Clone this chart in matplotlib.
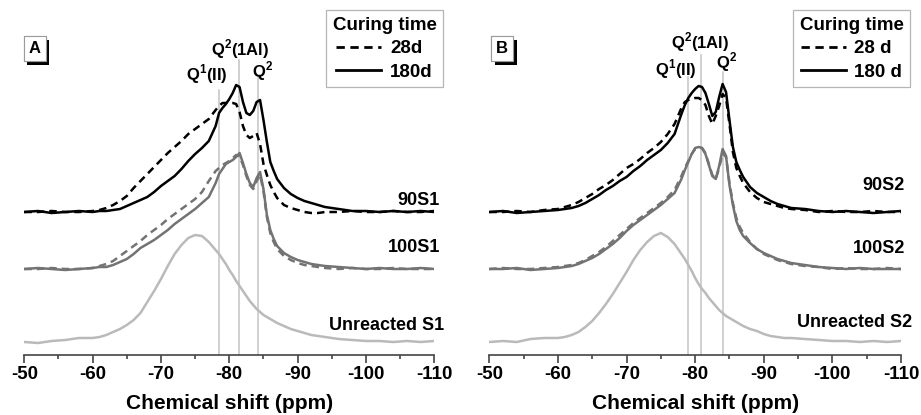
import matplotlib
matplotlib.use("Agg")
import matplotlib.pyplot as plt
import matplotlib.patheffects as pe
from matplotlib.lines import Line2D

plt.rcParams['font.family'] = ['Liberation Sans', 'DejaVu Sans']
plt.rcParams['font.weight'] = 'bold'
plt.rcParams['axes.unicode_minus'] = False
plt.rcParams['mathtext.fontset'] = 'custom'
plt.rcParams['mathtext.rm'] = 'Liberation Sans:bold'
plt.rcParams['mathtext.bf'] = 'Liberation Sans:bold'

# chemical shift grid (ppm), shared by all spectra
ppm = [-50, -52, -54, -56, -58, -60,
       -61, -62, -63, -64, -65, -66, -67, -68, -69, -70, -71, -72, -73, -74, -75, -76, -77, -78,
       -78.5, -79, -79.5, -80, -80.5, -81, -81.5, -82, -82.5, -83, -83.5, -84, -84.5, -85, -85.5, -86, -86.5, -87,
       -88, -89, -90, -91, -92, -93, -94,
       -96, -98, -100, -102, -104, -106, -108, -110]

# intensities above each trace's baseline (arbitrary units)
s1_90_180d = [0, 1, -1, 0, 1, 0,
              1, 1, 2, 3, 6, 9, 12, 15, 20, 26, 31, 36, 43, 51, 58, 64, 71, 86,
              99, 104, 108, 113, 119, 127, 125, 110, 99, 97, 101, 110, 112, 92, 70, 50, 41, 33,
              24, 18, 14, 11, 9, 7, 5,
              3, 1, 1, 0, 1, 0, 1, 0]
s1_90_28d = [0, 0, 1, 0, 0, 1,
             2, 4, 7, 11, 16, 24, 31, 38, 45, 52, 59, 65, 71, 78, 83, 88, 93, 102,
             106, 109, 109, 109, 109, 108, 100, 86, 77, 74, 76, 79, 68, 48, 37, 27, 20, 14,
             7, 4, 2, 0, -1, -1, 0,
             0, 1, 0, 0, 1, 0, 0, 1]
s1_100_180d = [0, 1, 0, -1, 0, 1,
               2, 2, 4, 7, 10, 15, 21, 25, 29, 34, 39, 45, 50, 55, 60, 66, 72, 86,
               95, 100, 105, 107, 109, 112, 116, 106, 95, 86, 82, 91, 97, 80, 54, 39, 30, 23,
               16, 12, 9, 7, 5, 4, 3,
               2, 1, 0, 1, 0, 0, 1, 0]
s1_100_28d = [0, 0, 1, 0, 0, 1,
              3, 5, 8, 13, 18, 23, 28, 34, 39, 44, 50, 55, 60, 65, 70, 77, 88, 98,
              101, 104, 106, 108, 111, 114, 113, 104, 93, 84, 80, 88, 94, 78, 52, 36, 27, 20,
              13, 9, 6, 4, 3, 2, 1,
              0, 1, 0, 0, 1, 0, 0, 0]
s1_unreacted = [0, -1, 1, 2, 4, 4,
                5, 7, 10, 13, 17, 22, 29, 40, 51, 63, 76, 88, 97, 104, 107, 106, 100, 92,
                88, 83, 78, 72, 67, 61, 56, 51, 46, 41, 37, 33, 30, 27, 25, 23, 21, 19,
                16, 13, 11, 9, 7, 6, 5,
                3, 2, 1, 1, 0, 1, 0, 1]

s2_90_180d = [0, 1, -1, 0, 1, 2,
              3, 4, 6, 9, 13, 17, 22, 26, 31, 35, 41, 46, 52, 57, 62, 69, 78, 98,
              107, 114, 119, 123, 126, 125, 119, 108, 96, 100, 115, 128, 120, 92, 65, 50, 42, 35,
              25, 19, 15, 11, 8, 6, 4,
              3, 1, 0, 1, 0, -1, 0, 1]
s2_90_28d = [0, 0, 1, 0, 2, 3,
             5, 7, 10, 14, 18, 23, 27, 32, 38, 44, 48, 53, 59, 64, 70, 78, 88, 104,
             110, 112, 113, 114, 114, 112, 107, 96, 88, 96, 106, 118, 114, 88, 60, 44, 36, 29,
             20, 14, 10, 8, 6, 4, 3,
             2, 0, 1, 0, 0, 1, 0, 0]
s2_100_180d = [0, 0, 1, -1, 0, 1,
               2, 3, 5, 8, 11, 15, 20, 25, 31, 38, 44, 49, 54, 59, 64, 70, 76, 90,
               99, 107, 115, 121, 122, 121, 115, 104, 93, 90, 103, 120, 113, 84, 64, 48, 39, 33,
               26, 20, 16, 13, 10, 8, 6,
               4, 2, 1, 0, 1, 0, 0, 0]
s2_100_28d = [0, 1, 0, 0, 1, 2,
              3, 4, 6, 9, 13, 17, 22, 28, 34, 40, 46, 51, 56, 61, 66, 72, 79, 93,
              101, 108, 115, 120, 121, 121, 116, 105, 94, 90, 101, 116, 112, 86, 66, 51, 42, 36,
              27, 20, 15, 12, 9, 7, 5,
              3, 2, 0, 1, 0, 0, 1, 0]
s2_unreacted = [0, 1, 0, 3, 4, 4,
                5, 7, 10, 15, 21, 29, 38, 48, 59, 70, 82, 92, 100, 106, 109, 105, 98, 88,
                83, 77, 71, 64, 58, 53, 49, 44, 40, 36, 32, 29, 26, 24, 22, 20, 18, 16,
                13, 11, 8, 6, 5, 4, 4,
                3, 2, 1, 1, 0, 1, 0, 1]

# peak assignment positions (ppm)
peaks_s1 = [-78.5, -81.4, -84.2]
peaks_s2 = [-78.9, -80.9, -84.0]
peak_labels = [r"Q$^{\mathbf{1}}$(II)", r"Q$^{\mathbf{2}}$(1Al)", r"Q$^{\mathbf{2}}$"]

BLACK = "black"
MID = "#737373"
LIGHT = "#bababa"
VLINE = "#c4c4c4"
DASH = (3.0, 2.0)
LW = 1.8

W, H = 921, 415


def draw_panel(ax, spectra, peaks, line_tops, label_pos, names, name_pos, letter, leg_labels, leg_right):
    base90, base100, base_unr = 143, 86, 13

    for p, top in zip(peaks, line_tops):
        ax.plot([p, p], [0, top], color=VLINE, lw=1.1, zorder=1)
    for lab, (x, y) in zip(peak_labels, label_pos):
        ax.text(x, y, lab, ha='center', va='center', fontsize=12, fontweight='bold')

    unr, d100_28, d100_180, d90_28, d90_180 = spectra
    ax.plot(ppm, [v + base_unr for v in unr], color=LIGHT, lw=LW, zorder=2)
    ax.plot(ppm, [v + base100 for v in d100_28], color=MID, lw=LW, dashes=DASH, zorder=3)
    ax.plot(ppm, [v + base100 for v in d100_180], color=MID, lw=LW, zorder=3)
    ax.plot(ppm, [v + base90 for v in d90_28], color=BLACK, lw=LW, dashes=DASH, zorder=4)
    ax.plot(ppm, [v + base90 for v in d90_180], color=BLACK, lw=LW, zorder=4)

    for name, (x, y) in zip(names, name_pos):
        ax.text(x, y, name, ha='right', va='center', fontsize=13, fontweight='bold', clip_on=False)

    ax.set_xlim(-50, -110)
    ax.set_ylim(0, 345)
    ax.set_xticks(range(-50, -111, -10))
    ax.set_xticks(range(-55, -110, -10), minor=True)
    ax.set_yticks([])
    for s in ['left', 'top', 'right']:
        ax.spines[s].set_visible(False)
    ax.spines['bottom'].set_color('#444444')
    ax.spines['bottom'].set_linewidth(1.2)
    ax.tick_params(axis='x', which='major', length=6, width=1.2, color='#444444',
                   labelsize=13.5, pad=2)
    ax.tick_params(axis='x', which='minor', length=3, width=1.2, color='#444444')
    for t in ax.get_xticklabels():
        t.set_fontweight('bold')
    ax.set_xlabel("Chemical shift (ppm)", fontsize=15, fontweight='bold', labelpad=8)

    t = ax.text(letter[1], letter[2], letter[0], transform=ax.transAxes, ha='center', va='center',
                fontsize=12, fontweight='bold',
                bbox=dict(boxstyle='square,pad=0.3', fc='white', ec='#9a9a9a', lw=0.8))
    t.get_bbox_patch().set_path_effects([
        pe.withSimplePatchShadow(offset=(2.5, -2.5), shadow_rgbFace='black', alpha=1.0),
        pe.Normal()])

    handles = [Line2D([], [], color='black', lw=2.0, dashes=DASH),
               Line2D([], [], color='black', lw=2.0)]
    leg = ax.legend(handles, leg_labels, title="Curing time", loc='upper right',
                    bbox_to_anchor=(leg_right / W, 1 - 10 / H), bbox_transform=ax.figure.transFigure,
                    fancybox=False, framealpha=1, edgecolor='#b5b5b5', fontsize=13.5,
                    title_fontproperties={'weight': 'bold', 'size': 13.5},
                    handlelength=2.4, handletextpad=0.45, borderpad=0.35, labelspacing=0.35,
                    borderaxespad=0)
    leg.get_frame().set_linewidth(0.9)
    for txt in leg.get_texts():
        txt.set_fontweight('bold')


fig = plt.figure(figsize=(W / 100, H / 100), dpi=100)
axA = fig.add_axes([24.3 / W, 60 / H, 410 / W, 345 / H])
axB = fig.add_axes([489.3 / W, 60 / H, 411.7 / W, 345 / H])

draw_panel(axA, [s1_unreacted, s1_100_28d, s1_100_180d, s1_90_28d, s1_90_180d],
           peaks_s1, [265, 295, 277],
           [(-76.7, 281), (-81.6, 306), (-84.8, 284)],
           ["90S1", "100S1", "Unreacted S1"], [(-110.8, 155), (-110.8, 108), (-111.5, 30)],
           ("A", 0.026, 0.887), ["28d", "180d"], 443)

draw_panel(axB, [s2_unreacted, s2_100_28d, s2_100_180d, s2_90_28d, s2_90_180d],
           peaks_s2, [278, 300, 283],
           [(-77.2, 286), (-80.7, 313), (-84.6, 293)],
           ["90S2", "100S2", "Unreacted S2"], [(-110.6, 170), (-110.6, 107), (-111.6, 33)],
           ("B", 0.031, 0.887), ["28 d", "180 d"], 910)

fig.savefig("out.png", dpi=100)
plt.close(fig)
